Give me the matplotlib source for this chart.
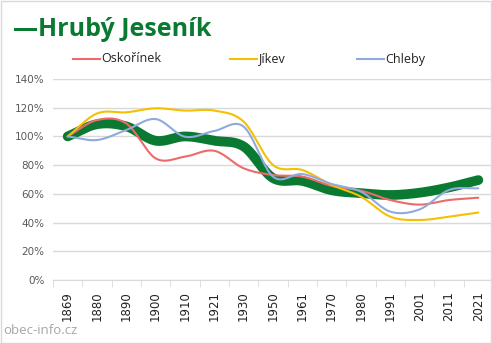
import numpy as np
import matplotlib
matplotlib.use("Agg")
import matplotlib.pyplot as plt
from matplotlib.lines import Line2D
from matplotlib.patches import Rectangle

years = ["1869", "1880", "1890", "1900", "1910", "1921", "1930", "1950",
         "1961", "1970", "1980", "1991", "2001", "2011", "2021"]
hruby_jesenik = [100, 108.5, 107, 97, 100, 97, 93, 71, 69, 62.5, 60.5, 59.2, 60.8, 64.5, 69.6]
oskorinek = [100, 111.4, 109, 84.7, 85.9, 90, 77.8, 73.1, 72, 65.5, 62.2, 55.7, 52.5, 55.7, 57.3]
jikev = [100, 116, 116.8, 119.6, 118, 118, 110.3, 80.1, 76.6, 66.2, 58, 44.1, 41.8, 44.1, 47]
chleby = [100, 97.5, 104.5, 112.1, 99.8, 103.8, 106.8, 72, 73.8, 66.9, 61.5, 47.6, 49.2, 62.7, 63.9]
y_ticks = [0, 20, 40, 60, 80, 100, 120, 140]

def smooth(y, n=20):
    # Catmull-Rom style smoothing similar to Excel smoothed lines
    y = np.asarray(y, float)
    x = np.arange(len(y), dtype=float)
    P = np.column_stack([x, y])
    ext = np.vstack([P[0] - (P[1] - P[0]), P, P[-1] + (P[-1] - P[-2])])
    out = []
    for i in range(1, len(ext) - 2):
        p0, p1, p2, p3 = ext[i - 1], ext[i], ext[i + 1], ext[i + 2]
        c1 = p1 + (p2 - p0) / 6.0
        c2 = p2 - (p3 - p1) / 6.0
        t = np.linspace(0, 1, n, endpoint=(i == len(ext) - 3))[:, None]
        pts = (1 - t) ** 3 * p1 + 3 * (1 - t) ** 2 * t * c1 + 3 * (1 - t) * t ** 2 * c2 + t ** 3 * p2
        out.append(pts)
    out = np.vstack(out)
    return out[:, 0], out[:, 1]

W, H = 492, 343
fig = plt.figure(figsize=(W / 100, H / 100), dpi=100)
fig.patch.set_facecolor("white")
fig.add_artist(Rectangle((0.5 / W, 0.5 / H), (W - 1.5) / W, (H - 1.5) / H, transform=fig.transFigure,
                         fill=False, edgecolor="#d9d9d9", linewidth=1.0))

ax = fig.add_axes([53 / W, 1 - 280 / H, 440 / W, (280 - 79) / H])
ax.set_xlim(-0.5, len(years) - 0.5)
ax.set_ylim(0, 140)

for v in y_ticks:
    ax.axhline(v, color="#d9d9d9", linewidth=1.0, zorder=0)

colors = {"Oskořínek": "#ee6a6a", "Jíkev": "#f5c000", "Chleby": "#8faadc"}
for name, vals in [("Oskořínek", oskorinek), ("Jíkev", jikev), ("Chleby", chleby)]:
    xs, ys = smooth(vals)
    ax.plot(xs, ys, color=colors[name], linewidth=1.5, solid_capstyle="round", zorder=3)
xs, ys = smooth(hruby_jesenik)
ax.plot(xs, ys, color="#0a7a32", linewidth=7, solid_capstyle="round", zorder=2)

for s in ax.spines.values():
    s.set_visible(False)
ax.spines["bottom"].set_visible(True)
ax.spines["bottom"].set_color("#d9d9d9")

ax.set_yticks(y_ticks)
ax.set_yticklabels([f"{v}%" for v in y_ticks], color="#595959", fontsize=7.5, family="DejaVu Sans")
ax.tick_params(axis="y", length=0, pad=6)
ax.set_xticks(np.arange(len(years)))
ax.set_xticklabels(years, rotation=90, color="#222222", fontsize=8.5, family="DejaVu Sans")
ax.tick_params(axis="x", length=0, pad=8)
ax.set_xticks(np.arange(len(years) + 1) - 0.5, minor=True)
ax.tick_params(axis="x", which="minor", length=5, color="#d9d9d9", direction="out")

fig.text(13 / W, 1 - 29 / H, "—Hrubý Jeseník", color="#0a7a32", fontsize=18, fontweight="bold",
         family="Open Sans", va="center", ha="left")

leg = [(73, "Oskořínek", "#ee6a6a"), (230, "Jíkev", "#f5c000"), (357, "Chleby", "#8faadc")]
for x0, name, c in leg:
    fig.add_artist(Line2D([x0 / W, (x0 + 27) / W], [1 - 59 / H] * 2, color=c, linewidth=1.5,
                          transform=fig.transFigure))
    fig.text((x0 + 28) / W, 1 - 59 / H, name, color="#222222", fontsize=9, family="Open Sans",
             va="center", ha="left")

fig.text(3 / W, 1 - 330 / H, "obec-info.cz", color="#a6a6a6", fontsize=9.5, family="Open Sans",
         va="center", ha="left")

fig.savefig("out.png", dpi=100, facecolor="white")
